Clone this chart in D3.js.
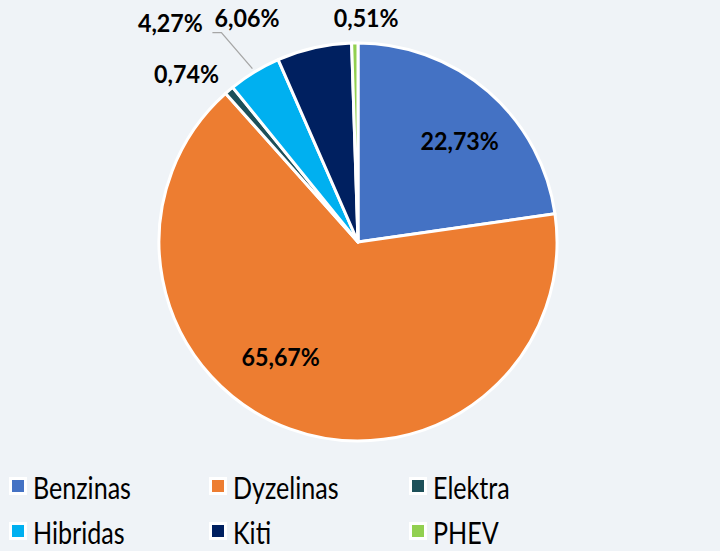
<!DOCTYPE html>
<html><head><meta charset="utf-8">
<script src="https://cdn.jsdelivr.net/npm/d3@7"></script>
<style>
html,body{margin:0;padding:0;background:#eff3f7;}
svg{display:block;}
</style></head>
<body>
<svg id="c" width="720" height="551"></svg>
<script>
const categories = ["Benzinas","Dyzelinas","Elektra","Hibridas","Kiti","PHEV"];
const values = [22.73, 65.67, 0.74, 4.27, 6.06, 0.51];
const labels = ["22,73%","65,67%","0,74%","4,27%","6,06%","0,51%"];
const colors = ["#4472C4","#ED7D31","#1D5059","#00B0F0","#002060","#92D050"];

const W = 720, H = 551;
const cx = 358, cy = 242, R = 199;
const svg = d3.select("#c");
svg.append("rect").attr("width",W).attr("height",H).attr("fill","#eff3f7");

const pie = d3.pie().sort(null).value(d=>d)(values);
const arc = d3.arc().innerRadius(0).outerRadius(R);
const g = svg.append("g").attr("transform",`translate(${cx},${cy})`);
g.selectAll("path").data(pie).join("path")
  .attr("d",arc).attr("fill",(d,i)=>colors[i])
  .attr("stroke","#ffffff").attr("stroke-width",3).attr("stroke-linejoin","round");

// label placement (polar: radius, angle offset in degrees from slice mid-angle)
const labelPolar = [[144, 4],[138, 14],[241, -5],[0,0],[251,-13.5],[225,3]];
function polar(r,a){return [r*Math.sin(a), -r*Math.cos(a)];}
const lblG = g.append("g");
pie.forEach((d,i)=>{
  const mid=(d.startAngle+d.endAngle)/2;
  let x,y;
  if(i===3){
    const e = polar(R+4, mid);
    const elbow = [e[0]-31, e[1]-36];
    const end = [elbow[0]-9, elbow[1]];
    lblG.append("path").attr("d",d3.line()([e,elbow,end]))
      .attr("fill","none").attr("stroke","#a6a6a6").attr("stroke-width",1.3);
    x = end[0]-42; y = end[1]-10;
  } else {
    const p = polar(labelPolar[i][0], mid + labelPolar[i][1]*Math.PI/180);
    x=p[0]; y=p[1];
  }
  lblG.append("text").attr("transform",`translate(${x},${y}) scale(0.93,1)`)
    .attr("text-anchor","middle").attr("dominant-baseline","central")
    .attr("font-family","Lato, 'Open Sans', sans-serif").attr("font-weight","bold")
    .attr("font-size",25).attr("fill","#000").text(labels[i]);
});

// legend
const leg = svg.append("g");
categories.forEach((c,i)=>{
  const col=i%3, row=Math.floor(i/3);
  const x=9+col*200, y=486+row*45;
  leg.append("rect").attr("x",x).attr("y",y-9).attr("width",18).attr("height",18).attr("fill","#ffffff");
  leg.append("rect").attr("x",x+3).attr("y",y-6).attr("width",12).attr("height",12).attr("fill",colors[i]);
  leg.append("text").attr("transform",`translate(${x+24},${y+1}) scale(0.81,1)`)
    .attr("dominant-baseline","central")
    .attr("font-family","Lato, 'Open Sans', sans-serif").attr("font-size",31).attr("fill","#000").text(c);
});
</script>
</body></html>
